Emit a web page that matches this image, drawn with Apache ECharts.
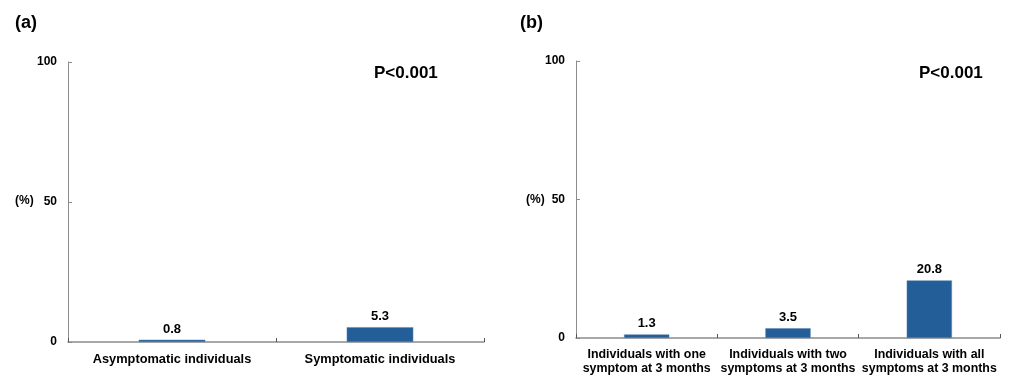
<!DOCTYPE html>
<html><head><meta charset="utf-8">
<script src="https://cdn.jsdelivr.net/npm/echarts@6/dist/echarts.min.js"></script>
<style>html,body{margin:0;padding:0;background:#fff}#c{width:1013px;height:376px}</style>
</head><body><div id="c"></div>
<script>
const categoriesA = ['Asymptomatic individuals', 'Symptomatic individuals'];
const valuesA = [0.8, 5.3];
const categoriesB = ['Individuals with one\nsymptom at 3 months', 'Individuals with two\nsymptoms at 3 months', 'Individuals with all\nsymptoms at 3 months'];
const valuesB = [1.3, 3.5, 20.8];
const yTicks = [0, 50, 100];

const F = 'Liberation Sans, Arial, sans-serif';
const axisColor = '#8c8c8c';
const barColor = '#235e99';

function yAxis(gi) {
  return {
    type: 'value', gridIndex: gi, min: 0, max: 100, interval: 50,
    axisLine: { show: true, lineStyle: { color: axisColor, width: 1 } },
    axisTick: { show: true, inside: true, length: 4, lineStyle: { color: axisColor } },
    splitLine: { show: false },
    axisLabel: { color: '#000', fontFamily: F, fontWeight: 'bold', fontSize: 12, margin: 11,
      formatter: v => yTicks.includes(v) ? String(v) : '' }
  };
}
function xAxis(gi, cats, size) {
  return {
    type: 'category', gridIndex: gi, data: cats,
    axisLine: { show: true, lineStyle: { color: axisColor, width: 1.5 } },
    axisTick: { show: true, inside: true, length: 4, lineStyle: { color: '#555' } },
    axisLabel: { color: '#000', fontFamily: F, fontWeight: 'bold', fontSize: size, margin: 10, lineHeight: 14, interval: 0 }
  };
}
function bar(gi, vals) {
  return {
    type: 'bar', xAxisIndex: gi, yAxisIndex: gi, data: vals, barWidth: '32%',
    itemStyle: { color: barColor, borderColor: '#5b86b3', borderWidth: 0.5 },
    label: { show: true, position: 'top', color: '#000', fontFamily: F, fontWeight: 'bold', fontSize: 13, distance: 4,
      formatter: p => p.value.toFixed(1) },
    silent: true
  };
}
const txt = (t, l, tp, size) => ({ text: t, left: l, top: tp, textStyle: { fontFamily: F, fontWeight: 'bold', fontSize: size, color: '#000' } });

const chart = echarts.init(document.getElementById('c'), null, { renderer: 'canvas' });
chart.setOption({
  animation: false,
  title: [
    txt('(a)', 10, 9, 18),
    txt('(b)', 515, 9, 18),
    txt('P<0.001', 369, 60, 17),
    txt('P<0.001', 914, 60, 17),
    { text: '(%)', left: 10, top: 190, textStyle: { fontFamily: F, fontWeight: 'bold', fontSize: 12, color: '#000' } },
    { text: '(%)', left: 521, top: 189, textStyle: { fontFamily: F, fontWeight: 'bold', fontSize: 12, color: '#000' } }
  ],
  grid: [
    { left: 68, top: 62, width: 416, height: 280 },
    { left: 576, top: 61, width: 424, height: 278 }
  ],
  xAxis: [xAxis(0, categoriesA, 12.8), xAxis(1, categoriesB, 12.4)],
  yAxis: [yAxis(0), yAxis(1)],
  series: [bar(0, valuesA), bar(1, valuesB)]
});
</script></body></html>
